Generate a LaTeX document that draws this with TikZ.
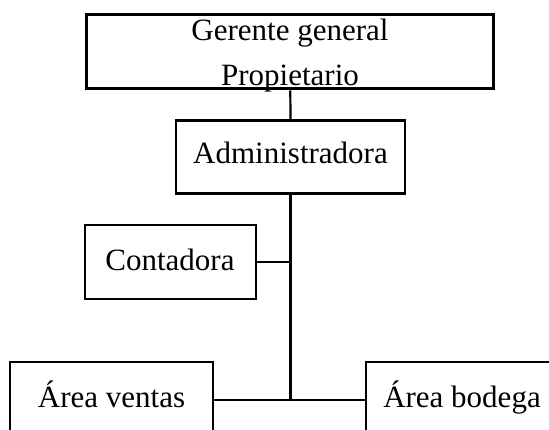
\documentclass[tikz,border=0pt]{standalone}
\usepackage{fontspec}
\setmainfont{Liberation Serif}
\begin{document}
\begin{tikzpicture}[x=1pt,y=-1pt,
  box/.style={draw=black, line width=2.6pt, fill=white, inner sep=0pt, minimum width=#1},
  topbox/.style={draw=black, line width=3pt, inner sep=0pt},
  link/.style={draw=black, line width=2.2pt},
  lbl/.style={anchor=base, inner sep=0pt, font=\fontsize{31}{45}\selectfont}]
  \useasboundingbox (0,0) rectangle (549,430);
  \clip (0,0) rectangle (549,430);
  \fill[white] (0,0) rectangle (549,430);

  % boxes of the chart
  \node[topbox, minimum width=407pt, minimum height=74pt] (ger) at (290.3,52) {};
  \node[box=229pt, minimum height=73pt] (adm) at (290.5,157) {};
  \node[box=171pt, minimum height=74pt] (con) at (170.5,262) {};
  \node[box=203pt, minimum height=76pt] (ven) at (111.5,400) {};
  \node[box=194pt, minimum height=76pt] (bod) at (463,400) {};

  % reporting lines
  \draw[link] (ger.south) -- (adm.north);
  \draw[link] (adm.south) -- (adm.south |- ven.east) coordinate (j);
  \draw[link] (con.east) -- (con.east -| adm.south);
  \draw[link] (ven.east) -- (bod.west);

  % titles
  \node[lbl] (tg1) at (290,41) {Gerente general};
  \node[lbl] (tg2) at (290,86) {Propietario};
  \node[lbl] (tadm) at (290.5,164) {Administradora};
  \node[lbl] (tcon) at (170,271) {Contadora};
  \node[lbl] (tven) at (111.5,407) {Área ventas};
  \node[lbl] (tbod) at (462,407) {Área bodega};
\end{tikzpicture}
\end{document}
